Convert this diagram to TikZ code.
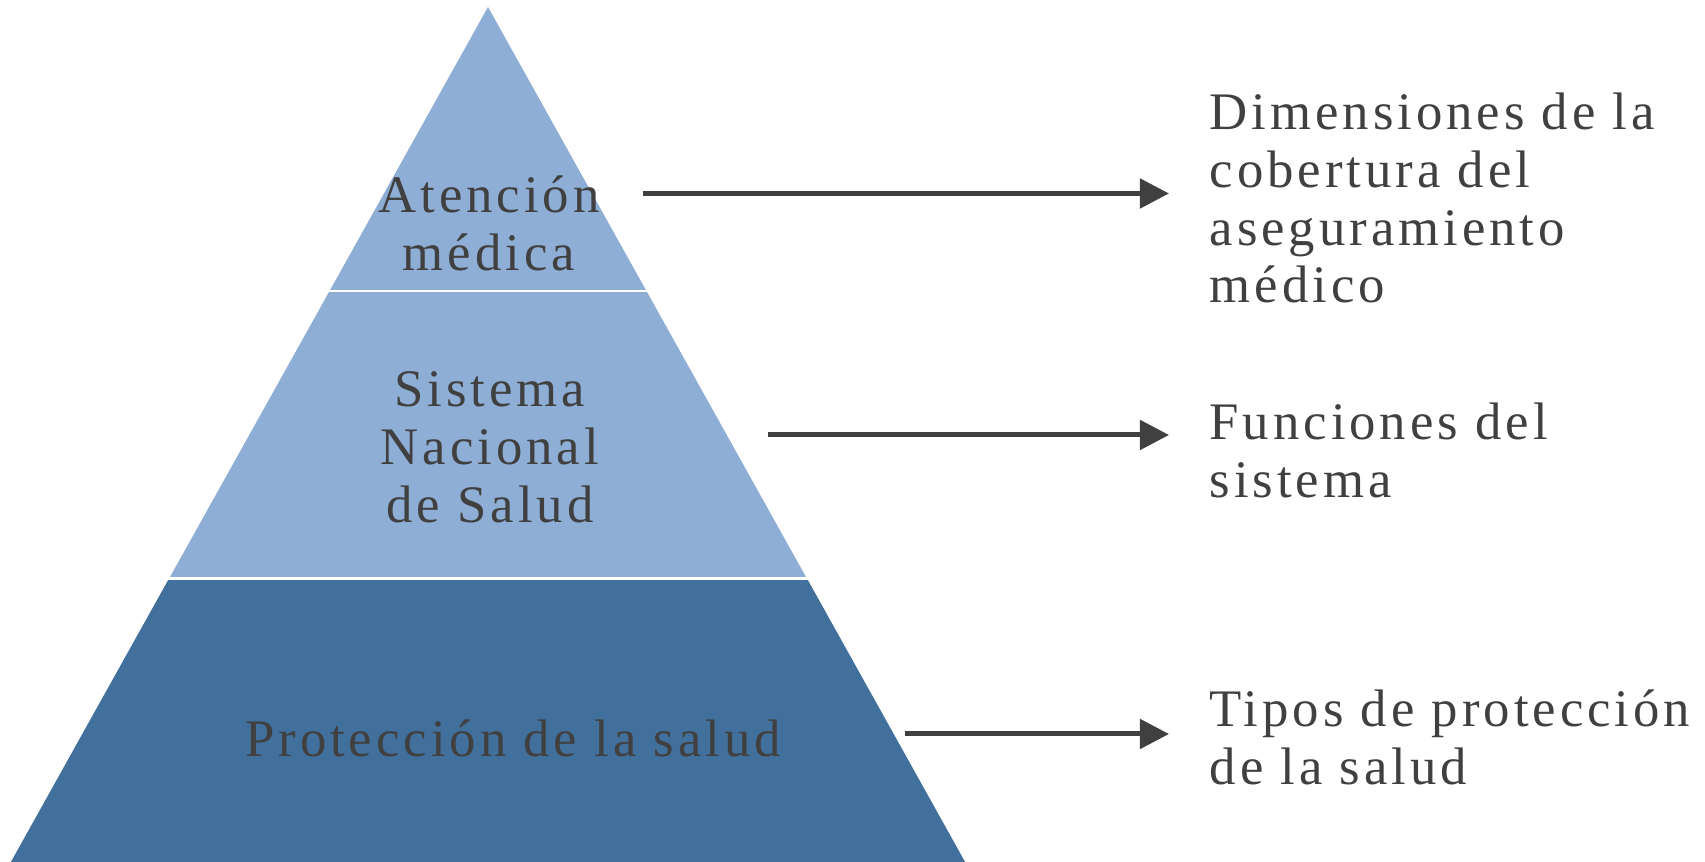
\documentclass[tikz,border=0pt]{standalone}
\usepackage{fontspec}
\setmainfont{Liberation Serif}[LetterSpace=7.5]
\usetikzlibrary{arrows.meta}
\definecolor{txt}{HTML}{404040}
\definecolor{lightblue}{HTML}{8EAED5}
\definecolor{darkblue}{HTML}{42709C}
\begin{document}
\begin{tikzpicture}[x=0.01cm,y=-0.01cm,
  lbl/.style={text=txt, font=\fontsize{15}{16.4}\selectfont, inner sep=0, align=center, anchor=base},
  rlbl/.style={text=txt, font=\fontsize{15}{16.4}\selectfont, inner sep=0, align=left, anchor=base west},
  conn/.style={draw=txt, line width=1.42pt, -{Triangle[length=0.29cm,width=0.29cm]}},
  sep/.style={draw=white, line width=0.8pt}]
\useasboundingbox (0,0) rectangle (1705,862);
% pyramid
\fill[lightblue] (488,7) -- (965,862) -- (11,862) -- cycle;
\fill[darkblue] (169.1,578.5) -- (806.9,578.5) -- (965,862) -- (11,862) -- cycle;
\draw[sep] (300,291) -- (680,291);
\draw[sep] (140,578.5) -- (840,578.5);
% pyramid labels
\node[lbl] (atencion) at (489,270.6) {Atención\\médica};
\node[lbl] (sistema) at (490,522.2) {Sistema\\Nacional\\de Salud};
\node[lbl] (proteccion) at (513,757) {Protección de la salud};
% right labels
\node[rlbl] (dim) at (1209,302.8) {Dimensiones de la\\cobertura del\\aseguramiento\\médico};
\node[rlbl] (fun) at (1209,497.6) {Funciones del\\sistema};
\node[rlbl] (tip) at (1209,784.6) {Tipos de protección\\de la salud};
% arrows
\coordinate (a1) at (643,193.5);
\coordinate (t1) at (1169,193.5);
\coordinate (a2) at (768,435);
\coordinate (t2) at (1169,435);
\coordinate (a3) at (905,734);
\coordinate (t3) at (1169,734);
\draw[conn] (a1) -- (t1);
\draw[conn] (a2) -- (t2);
\draw[conn] (a3) -- (t3);
\end{tikzpicture}
\end{document}
